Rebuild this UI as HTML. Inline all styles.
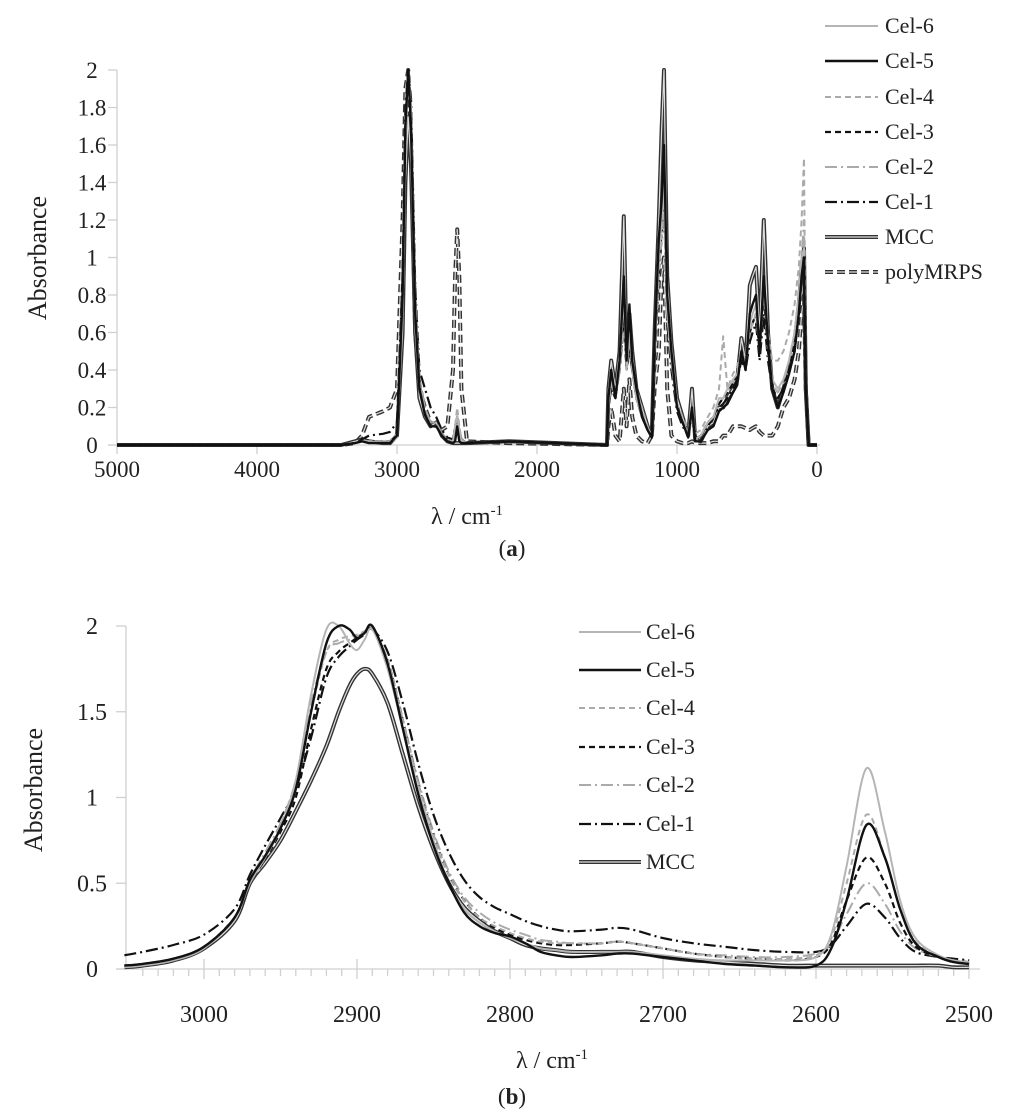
<!DOCTYPE html>
<html><head><meta charset="utf-8"><style>
html,body{margin:0;padding:0;background:#fff}
svg{display:block}
text{font-family:"Liberation Serif",serif;fill:#222}
</style></head><body>
<svg id="fig" width="1024" height="1118" viewBox="0 0 1024 1118" xmlns="http://www.w3.org/2000/svg">
<g id="ga"></g>
<g id="gb"></g>
<text x="512" y="556" text-anchor="middle" font-size="23">(<tspan font-weight="bold">a</tspan>)</text>
<text x="512" y="1104" text-anchor="middle" font-size="23">(<tspan font-weight="bold">b</tspan>)</text>
</svg>
<script>
const NS="http://www.w3.org/2000/svg";
// ---- Chart (a) data ----
const wnA=[5000,3400,3300,3250,3200,3100,3050,3000,2960,2940,2920,2900,2870,2840,2800,2760,2720,2680,2640,2600,2585,2570,2555,2540,2500,2200,1500,1490,1470,1440,1410,1380,1360,1340,1320,1290,1250,1210,1180,1160,1130,1110,1093,1070,1040,1000,960,920,893,870,830,780,740,700,670,640,600,570,540,510,480,460,436,410,380,350,320,280,240,200,160,130,110,93,80,60,0];
const aMCC=[0,0,0.02,0.03,0.02,0.01,0.01,0.05,0.6,1.4,1.75,1.5,0.6,0.25,0.15,0.1,0.12,0.05,0.02,0.01,0.01,0.01,0.01,0.01,0.01,0.02,0,0.3,0.45,0.3,0.5,1.22,0.5,0.7,0.5,0.3,0.2,0.1,0.05,0.6,1.2,1.68,2.0,0.9,0.55,0.25,0.15,0.05,0.3,0.03,0.02,0.1,0.12,0.2,0.2,0.25,0.3,0.35,0.57,0.45,0.85,0.9,0.95,0.6,1.2,0.6,0.3,0.2,0.3,0.4,0.55,0.75,0.95,1.05,0.3,0,0];
const aCel5=[0,0,0.01,0.02,0.01,0.01,0.01,0.05,0.8,1.7,2.0,1.7,0.7,0.3,0.16,0.1,0.1,0.05,0.02,0.01,0.02,0.1,0.02,0.01,0.01,0.02,0,0.25,0.4,0.25,0.45,0.9,0.45,0.75,0.45,0.3,0.15,0.08,0.04,0.55,1.1,1.3,1.6,0.8,0.5,0.2,0.12,0.04,0.2,0.02,0.02,0.08,0.1,0.18,0.2,0.22,0.28,0.32,0.5,0.4,0.7,0.75,0.8,0.5,0.9,0.55,0.3,0.2,0.28,0.38,0.5,0.7,0.9,1.0,0.3,0,0];
const aCel6=[0,0,0.01,0.02,0.02,0.01,0.01,0.04,0.7,1.6,2.0,1.75,0.7,0.3,0.16,0.1,0.1,0.05,0.02,0.01,0.1,0.15,0.08,0.02,0.01,0.02,0,0.2,0.35,0.25,0.4,0.8,0.4,0.6,0.4,0.25,0.15,0.08,0.04,0.5,1.0,1.2,1.4,0.7,0.45,0.2,0.12,0.05,0.15,0.03,0.05,0.12,0.15,0.25,0.25,0.3,0.35,0.38,0.5,0.42,0.65,0.7,0.75,0.5,0.85,0.55,0.35,0.3,0.35,0.45,0.6,0.8,1.0,1.05,0.3,0,0];
const aCel4=[0,0,0.01,0.02,0.02,0.02,0.02,0.06,0.8,1.7,2.0,1.8,0.8,0.35,0.2,0.12,0.12,0.06,0.03,0.02,0.1,0.2,0.1,0.03,0.01,0.02,0,0.2,0.35,0.3,0.45,0.6,0.45,0.55,0.45,0.3,0.2,0.1,0.05,0.5,0.9,1.1,1.3,0.7,0.45,0.22,0.15,0.08,0.2,0.06,0.08,0.15,0.2,0.3,0.58,0.3,0.38,0.42,0.5,0.45,0.6,0.65,0.7,0.55,0.8,0.6,0.45,0.45,0.5,0.6,0.75,0.95,1.2,1.53,0.3,0,0];
const aCel3=[0,0,0.01,0.02,0.02,0.02,0.02,0.06,0.8,1.7,2.0,1.8,0.8,0.35,0.2,0.12,0.12,0.06,0.03,0.02,0.1,0.15,0.08,0.03,0.01,0.02,0,0.2,0.3,0.25,0.4,0.7,0.4,0.55,0.4,0.25,0.15,0.08,0.04,0.5,0.95,1.15,1.35,0.7,0.45,0.2,0.12,0.05,0.15,0.03,0.05,0.12,0.15,0.22,0.25,0.28,0.33,0.37,0.48,0.42,0.6,0.65,0.7,0.5,0.8,0.5,0.3,0.25,0.3,0.4,0.55,0.75,0.95,1.05,0.3,0,0];
const aCel2=[0,0,0.01,0.02,0.02,0.02,0.02,0.06,0.8,1.7,2.0,1.8,0.8,0.35,0.2,0.12,0.12,0.06,0.03,0.02,0.1,0.15,0.08,0.03,0.01,0.02,0,0.2,0.32,0.25,0.42,0.72,0.42,0.55,0.4,0.25,0.15,0.08,0.04,0.5,0.95,1.1,1.25,0.7,0.45,0.2,0.12,0.05,0.15,0.03,0.05,0.12,0.15,0.22,0.25,0.28,0.33,0.37,0.48,0.42,0.6,0.65,0.7,0.5,0.8,0.5,0.32,0.28,0.33,0.45,0.6,0.8,1.0,1.2,0.3,0,0];
const aCel1=[0,0,0.01,0.03,0.05,0.06,0.07,0.12,0.9,1.8,2.0,1.85,0.85,0.4,0.3,0.2,0.15,0.08,0.04,0.03,0.1,0.15,0.08,0.03,0.01,0.02,0,0.2,0.3,0.25,0.4,0.65,0.4,0.5,0.4,0.25,0.15,0.08,0.04,0.45,0.9,1.1,1.3,0.65,0.4,0.18,0.1,0.05,0.15,0.03,0.05,0.1,0.15,0.2,0.22,0.25,0.3,0.35,0.45,0.4,0.55,0.6,0.65,0.45,0.7,0.45,0.3,0.25,0.3,0.4,0.5,0.7,0.9,1.0,0.3,0,0];
const aPoly=[0,0,0.01,0.05,0.15,0.18,0.2,0.3,1.2,1.9,2.0,1.6,0.6,0.3,0.2,0.12,0.1,0.08,0.1,0.4,0.9,1.15,0.9,0.3,0.02,0.01,0,0.1,0.2,0.05,0.02,0.3,0.1,0.35,0.15,0.05,0.02,0.01,0.05,0.3,0.5,0.9,1.0,0.3,0.05,0.02,0.01,0.01,0.02,0.01,0.01,0.01,0.02,0.02,0.05,0.05,0.1,0.1,0.1,0.09,0.08,0.09,0.1,0.07,0.05,0.05,0.05,0.1,0.2,0.25,0.35,0.5,0.7,0.8,0.3,0,0];
const xTicksA=[5000,4000,3000,2000,1000,0];
const yTicksA=["0","0.2","0.4","0.6","0.8","1","1.2","1.4","1.6","1.8","2"];
// ---- Chart (b) data ----
const wnB=[3052,3040,3020,3000,2980,2970,2960,2950,2940,2930,2920,2912,2905,2900,2895,2890,2880,2870,2860,2850,2840,2830,2820,2810,2800,2790,2780,2770,2760,2740,2730,2720,2700,2680,2660,2640,2620,2600,2590,2580,2567,2555,2545,2535,2520,2510,2500];
const bCel6=[0.01,0.02,0.05,0.12,0.3,0.5,0.65,0.82,1.1,1.6,1.98,2.0,1.9,1.86,1.92,1.98,1.75,1.4,1.05,0.75,0.5,0.35,0.27,0.22,0.18,0.15,0.12,0.11,0.1,0.1,0.1,0.1,0.08,0.06,0.05,0.05,0.05,0.07,0.2,0.6,1.17,0.8,0.4,0.18,0.08,0.05,0.04];
const bCel5=[0.02,0.03,0.06,0.13,0.3,0.52,0.66,0.82,1.05,1.5,1.9,2.0,1.98,1.93,1.96,2.0,1.78,1.4,1.02,0.72,0.5,0.33,0.25,0.21,0.19,0.15,0.1,0.08,0.07,0.08,0.09,0.09,0.07,0.05,0.03,0.02,0.01,0.02,0.12,0.4,0.84,0.65,0.35,0.15,0.07,0.04,0.03];
const bCel4=[0.02,0.03,0.06,0.13,0.3,0.52,0.66,0.84,1.1,1.5,1.85,1.92,1.94,1.95,1.97,1.99,1.8,1.45,1.08,0.78,0.55,0.4,0.3,0.25,0.21,0.18,0.16,0.15,0.15,0.15,0.16,0.15,0.12,0.09,0.07,0.06,0.06,0.08,0.18,0.5,0.9,0.65,0.35,0.16,0.08,0.05,0.04];
const bCel3=[0.02,0.03,0.06,0.13,0.3,0.5,0.64,0.8,1.0,1.4,1.75,1.85,1.9,1.93,1.96,1.98,1.8,1.45,1.08,0.78,0.55,0.4,0.3,0.24,0.2,0.17,0.15,0.14,0.14,0.15,0.16,0.15,0.12,0.09,0.07,0.06,0.05,0.07,0.15,0.4,0.65,0.5,0.27,0.13,0.07,0.05,0.04];
const bCel2=[0.02,0.03,0.06,0.13,0.3,0.52,0.68,0.85,1.1,1.55,1.85,1.9,1.92,1.94,1.96,1.98,1.8,1.45,1.1,0.8,0.57,0.42,0.33,0.27,0.23,0.2,0.17,0.16,0.15,0.15,0.16,0.15,0.12,0.09,0.08,0.07,0.07,0.09,0.15,0.32,0.5,0.38,0.22,0.12,0.07,0.05,0.04];
const bCel1=[0.08,0.1,0.14,0.2,0.35,0.55,0.72,0.88,1.05,1.35,1.7,1.82,1.88,1.92,1.95,1.98,1.85,1.55,1.2,0.9,0.68,0.52,0.42,0.36,0.32,0.28,0.25,0.23,0.22,0.23,0.24,0.23,0.18,0.15,0.13,0.11,0.1,0.1,0.14,0.25,0.38,0.3,0.18,0.1,0.07,0.06,0.05];
const bMCC=[0.01,0.02,0.05,0.12,0.28,0.5,0.62,0.75,0.92,1.1,1.3,1.5,1.65,1.72,1.75,1.72,1.55,1.25,0.95,0.7,0.5,0.36,0.28,0.22,0.18,0.14,0.12,0.11,0.1,0.1,0.1,0.1,0.07,0.05,0.04,0.03,0.02,0.02,0.02,0.02,0.02,0.02,0.02,0.02,0.02,0.01,0.01];
const xTicksB=[3000,2900,2800,2700,2600,2500];
const yTicksB=["0","0.5","1","1.5","2"];

const STY={
 "Cel-6":{c:"#b5b5b5",w:2,d:""},
 "Cel-5":{c:"#111",w:2.4,d:""},
 "Cel-4":{c:"#aaa",w:2,d:"6 4"},
 "Cel-3":{c:"#111",w:2.2,d:"6 4"},
 "Cel-2":{c:"#aaa",w:2,d:"12 4 2 4"},
 "Cel-1":{c:"#111",w:2.2,d:"12 4 2 4"},
 "MCC":{c:"#333",w:4,d:"",dbl:true},
 "polyMRPS":{c:"#333",w:4,d:"8 4",dbl:true}
};
function el(tag,attrs,parent){const e=document.createElementNS(NS,tag);for(const k in attrs)e.setAttribute(k,attrs[k]);parent.appendChild(e);return e;}
function pathD(pts,smooth){
 if(!smooth) return pts.map((p,i)=>(i?"L":"M")+p[0].toFixed(1)+","+p[1].toFixed(1)).join("");
 let d="M"+pts[0][0].toFixed(1)+","+pts[0][1].toFixed(1);
 for(let i=0;i<pts.length-1;i++){
  const p0=pts[Math.max(0,i-1)],p1=pts[i],p2=pts[i+1],p3=pts[Math.min(pts.length-1,i+2)];
  const c1=[p1[0]+(p2[0]-p0[0])/6,p1[1]+(p2[1]-p0[1])/6],c2=[p2[0]-(p3[0]-p1[0])/6,p2[1]-(p3[1]-p1[1])/6];
  d+="C"+c1[0].toFixed(1)+","+c1[1].toFixed(1)+" "+c2[0].toFixed(1)+","+c2[1].toFixed(1)+" "+p2[0].toFixed(1)+","+p2[1].toFixed(1);
 }
 return d;
}
function drawSeries(g,name,xs,ys,X,Y,smooth){
 const s=STY[name];
 const d=pathD(xs.map((x,i)=>[X(x),Y(ys[i])]),smooth);
 const grp=el("g",{},g);
 
 
 el("path",{d:d,fill:"none",stroke:s.c,"stroke-width":s.w,"stroke-dasharray":s.d,"stroke-linejoin":"round"},grp);
 if(s.dbl) el("path",{d:d,fill:"none",stroke:"#ddd","stroke-width":1.2,"stroke-dasharray":s.d,"stroke-linejoin":"round"},grp);
}
function legend(g,names,x0,x1,tx,ys,fs){
 names.forEach((n,i)=>{
  const s=STY[n];
  const lg=el("g",{},g);
  
  
  el("line",{x1:x0,x2:x1,y1:ys[i],y2:ys[i],stroke:s.c,"stroke-width":s.w,"stroke-dasharray":s.d},lg);
  if(s.dbl) el("line",{x1:x0,x2:x1,y1:ys[i],y2:ys[i],stroke:"#ddd","stroke-width":1.2,"stroke-dasharray":s.d},lg);
  const t=el("text",{x:tx,y:ys[i]+7,"font-size":fs},lg);t.textContent=n;
 });
}
// ---- draw A ----
(function(){
 const g=document.getElementById("ga");
 const X=v=>817-(v/5000)*700, Y=v=>445-(v/2)*375;
 el("line",{x1:117,y1:70,x2:117,y2:445,stroke:"#d0d0d0","stroke-width":1.3},g);
 el("line",{x1:108,y1:445,x2:820,y2:445,stroke:"#d0d0d0","stroke-width":1.3},g);
 yTicksA.forEach(t=>{const y=Y(parseFloat(t));
  el("line",{x1:108,x2:117,y1:y,y2:y,stroke:"#d0d0d0","stroke-width":1.3},g);
  const tx=el("text",{x:92,y:y+8,"text-anchor":"middle","font-size":23},g);tx.textContent=t;
  });
 xTicksA.forEach(t=>{const x=X(t);
  el("line",{x1:x,x2:x,y1:445,y2:454,stroke:"#d0d0d0","stroke-width":1.3},g);
  const tx=el("text",{x:x,y:477,"text-anchor":"middle","font-size":23},g);tx.textContent=t;
  });
 const yt=el("text",{x:0,y:0,transform:"translate(46,258) rotate(-90)","text-anchor":"middle","font-size":26},g);yt.textContent="Absorbance";
 
 const xt=el("text",{x:467,y:524,"text-anchor":"middle","font-size":24},g);xt.innerHTML='λ / cm<tspan dy="-9" font-size="15">-1</tspan>';
 
 const S={"polyMRPS":aPoly,"MCC":aMCC,"Cel-1":aCel1,"Cel-2":aCel2,"Cel-3":aCel3,"Cel-4":aCel4,"Cel-6":aCel6,"Cel-5":aCel5};
 Object.keys(S).forEach(n=>drawSeries(g,n,wnA,S[n],X,Y,false));
 legend(g,["Cel-6","Cel-5","Cel-4","Cel-3","Cel-2","Cel-1","MCC","polyMRPS"],825,878,885,[26,61,97,132,167,202,237,272],22);
})();
// ---- draw B ----
(function(){
 const g=document.getElementById("gb");
 const X=v=>204+(3000-v)*1.53, Y=v=>969-(v/2)*343;
 el("line",{x1:126,y1:626,x2:126,y2:969,stroke:"#d0d0d0","stroke-width":1.3},g);
 el("line",{x1:116,y1:969,x2:980,y2:969,stroke:"#d0d0d0","stroke-width":1.3},g);
 yTicksB.forEach(t=>{const y=Y(parseFloat(t));
  el("line",{x1:116,x2:126,y1:y,y2:y,stroke:"#d0d0d0","stroke-width":1.3},g);
  const tx=el("text",{x:92,y:y+8,"text-anchor":"middle","font-size":24},g);tx.textContent=t;
  });
 for(let v=3040;v>=2500;v-=10){const x=X(v);const major=v%100===0;
  el("line",{x1:x,x2:x,y1:major?959:969,y2:major?979:976,stroke:"#d0d0d0","stroke-width":1.3},g);}
 xTicksB.forEach(t=>{const x=X(t);
  const tx=el("text",{x:x,y:1022,"text-anchor":"middle","font-size":24},g);tx.textContent=t;
  });
 const yt=el("text",{x:0,y:0,transform:"translate(42,790) rotate(-90)","text-anchor":"middle","font-size":26},g);yt.textContent="Absorbance";
 
 const xt=el("text",{x:552,y:1068,"text-anchor":"middle","font-size":24},g);xt.innerHTML='λ / cm<tspan dy="-9" font-size="15">-1</tspan>';
 
 const S={"MCC":bMCC,"Cel-1":bCel1,"Cel-2":bCel2,"Cel-3":bCel3,"Cel-4":bCel4,"Cel-6":bCel6,"Cel-5":bCel5};
 Object.keys(S).forEach(n=>drawSeries(g,n,wnB,S[n],X,Y,true));
 legend(g,["Cel-6","Cel-5","Cel-4","Cel-3","Cel-2","Cel-1","MCC"],579,641,646,[632,670,708,747,785,824,862],22);
})();
</script>
</body></html>
